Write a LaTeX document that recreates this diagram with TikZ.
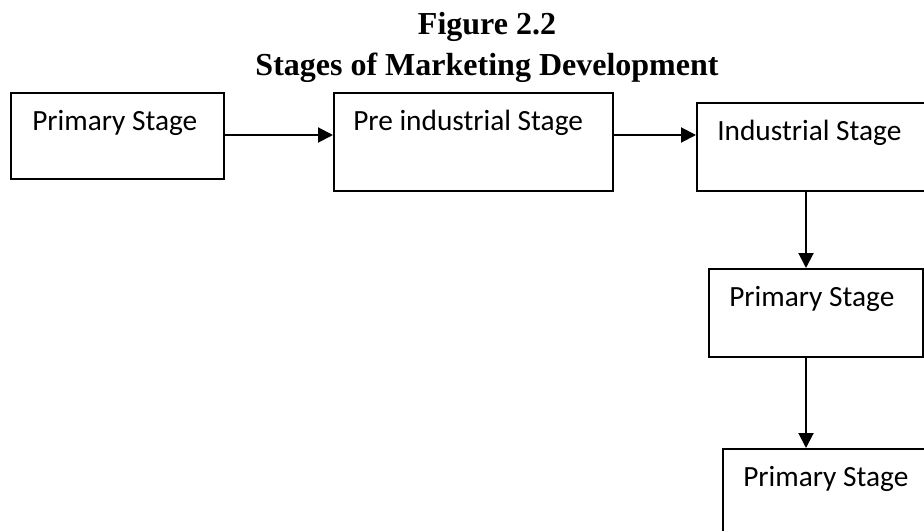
\documentclass[tikz,border=0pt]{standalone}
\usepackage{fontspec}
\setmainfont{Liberation Serif}
\newfontfamily\stagefont{Carlito}
\usetikzlibrary{arrows.meta}

\begin{document}
\begin{tikzpicture}[x=0.75pt,y=0.75pt,yscale=-1,xscale=1,
  stagebox/.style={draw, line width=1.5pt, rectangle, inner sep=0pt, anchor=north west},
  stagetext/.style={anchor=base west, inner sep=0pt, font=\stagefont\fontsize{22}{26}\selectfont},
  titletext/.style={anchor=base, inner sep=0pt, font=\bfseries\fontsize{24}{28}\selectfont},
  flow/.style={line width=1.5pt, -{Triangle[length=11.25pt,width=11.25pt]}}]
\useasboundingbox (0,0) rectangle (924,531);

% Text Node
\node [titletext] (fig) at (487,35) {Figure 2.2};
% Text Node
\node [titletext] (title) at (487,76) {Stages of Marketing Development};

%Shape: Rectangle
\node [stagebox, minimum width=159.75pt, minimum height=64.5pt] (primary) at (10,92) {};
%Shape: Rectangle
\node [stagebox, minimum width=209.25pt, minimum height=73.5pt] (preind) at (333,92) {};
%Shape: Rectangle
\node [stagebox, minimum width=180pt, minimum height=66pt] (ind) at (696,102) {};
%Shape: Rectangle
\node [stagebox, minimum width=160.5pt, minimum height=66pt] (primtwo) at (708,268) {};
%Shape: Rectangle
\node [stagebox, minimum width=165pt, minimum height=66pt] (primthree) at (722,448) {};

% Text Node
\node [stagetext] (tprimary) at ([shift={(22,38.5)}]primary.north west) {Primary Stage};
% Text Node
\node [stagetext] (tpreind) at ([shift={(20,38.5)}]preind.north west) {Pre industrial Stage};
% Text Node
\node [stagetext] (tind) at ([shift={(21,38.5)}]ind.north west) {Industrial Stage};
% Text Node
\node [stagetext] (tprimtwo) at ([shift={(21,38.5)}]primtwo.north west) {Primary Stage};
% Text Node
\node [stagetext] (tprimthree) at ([shift={(21,38.5)}]primthree.north west) {Primary Stage};

%Straight Lines
\coordinate (row) at (0,135);
\coordinate (spine) at (806,0);
\draw [flow] (primary.east |- row) -- (preind.west |- row);
\draw [flow] (preind.east |- row) -- (ind.west |- row);
\draw [flow] (ind.south -| spine) -- (primtwo.north -| spine);
\draw [flow] (primtwo.south -| spine) -- (primthree.north -| spine);

\end{tikzpicture}
\end{document}
